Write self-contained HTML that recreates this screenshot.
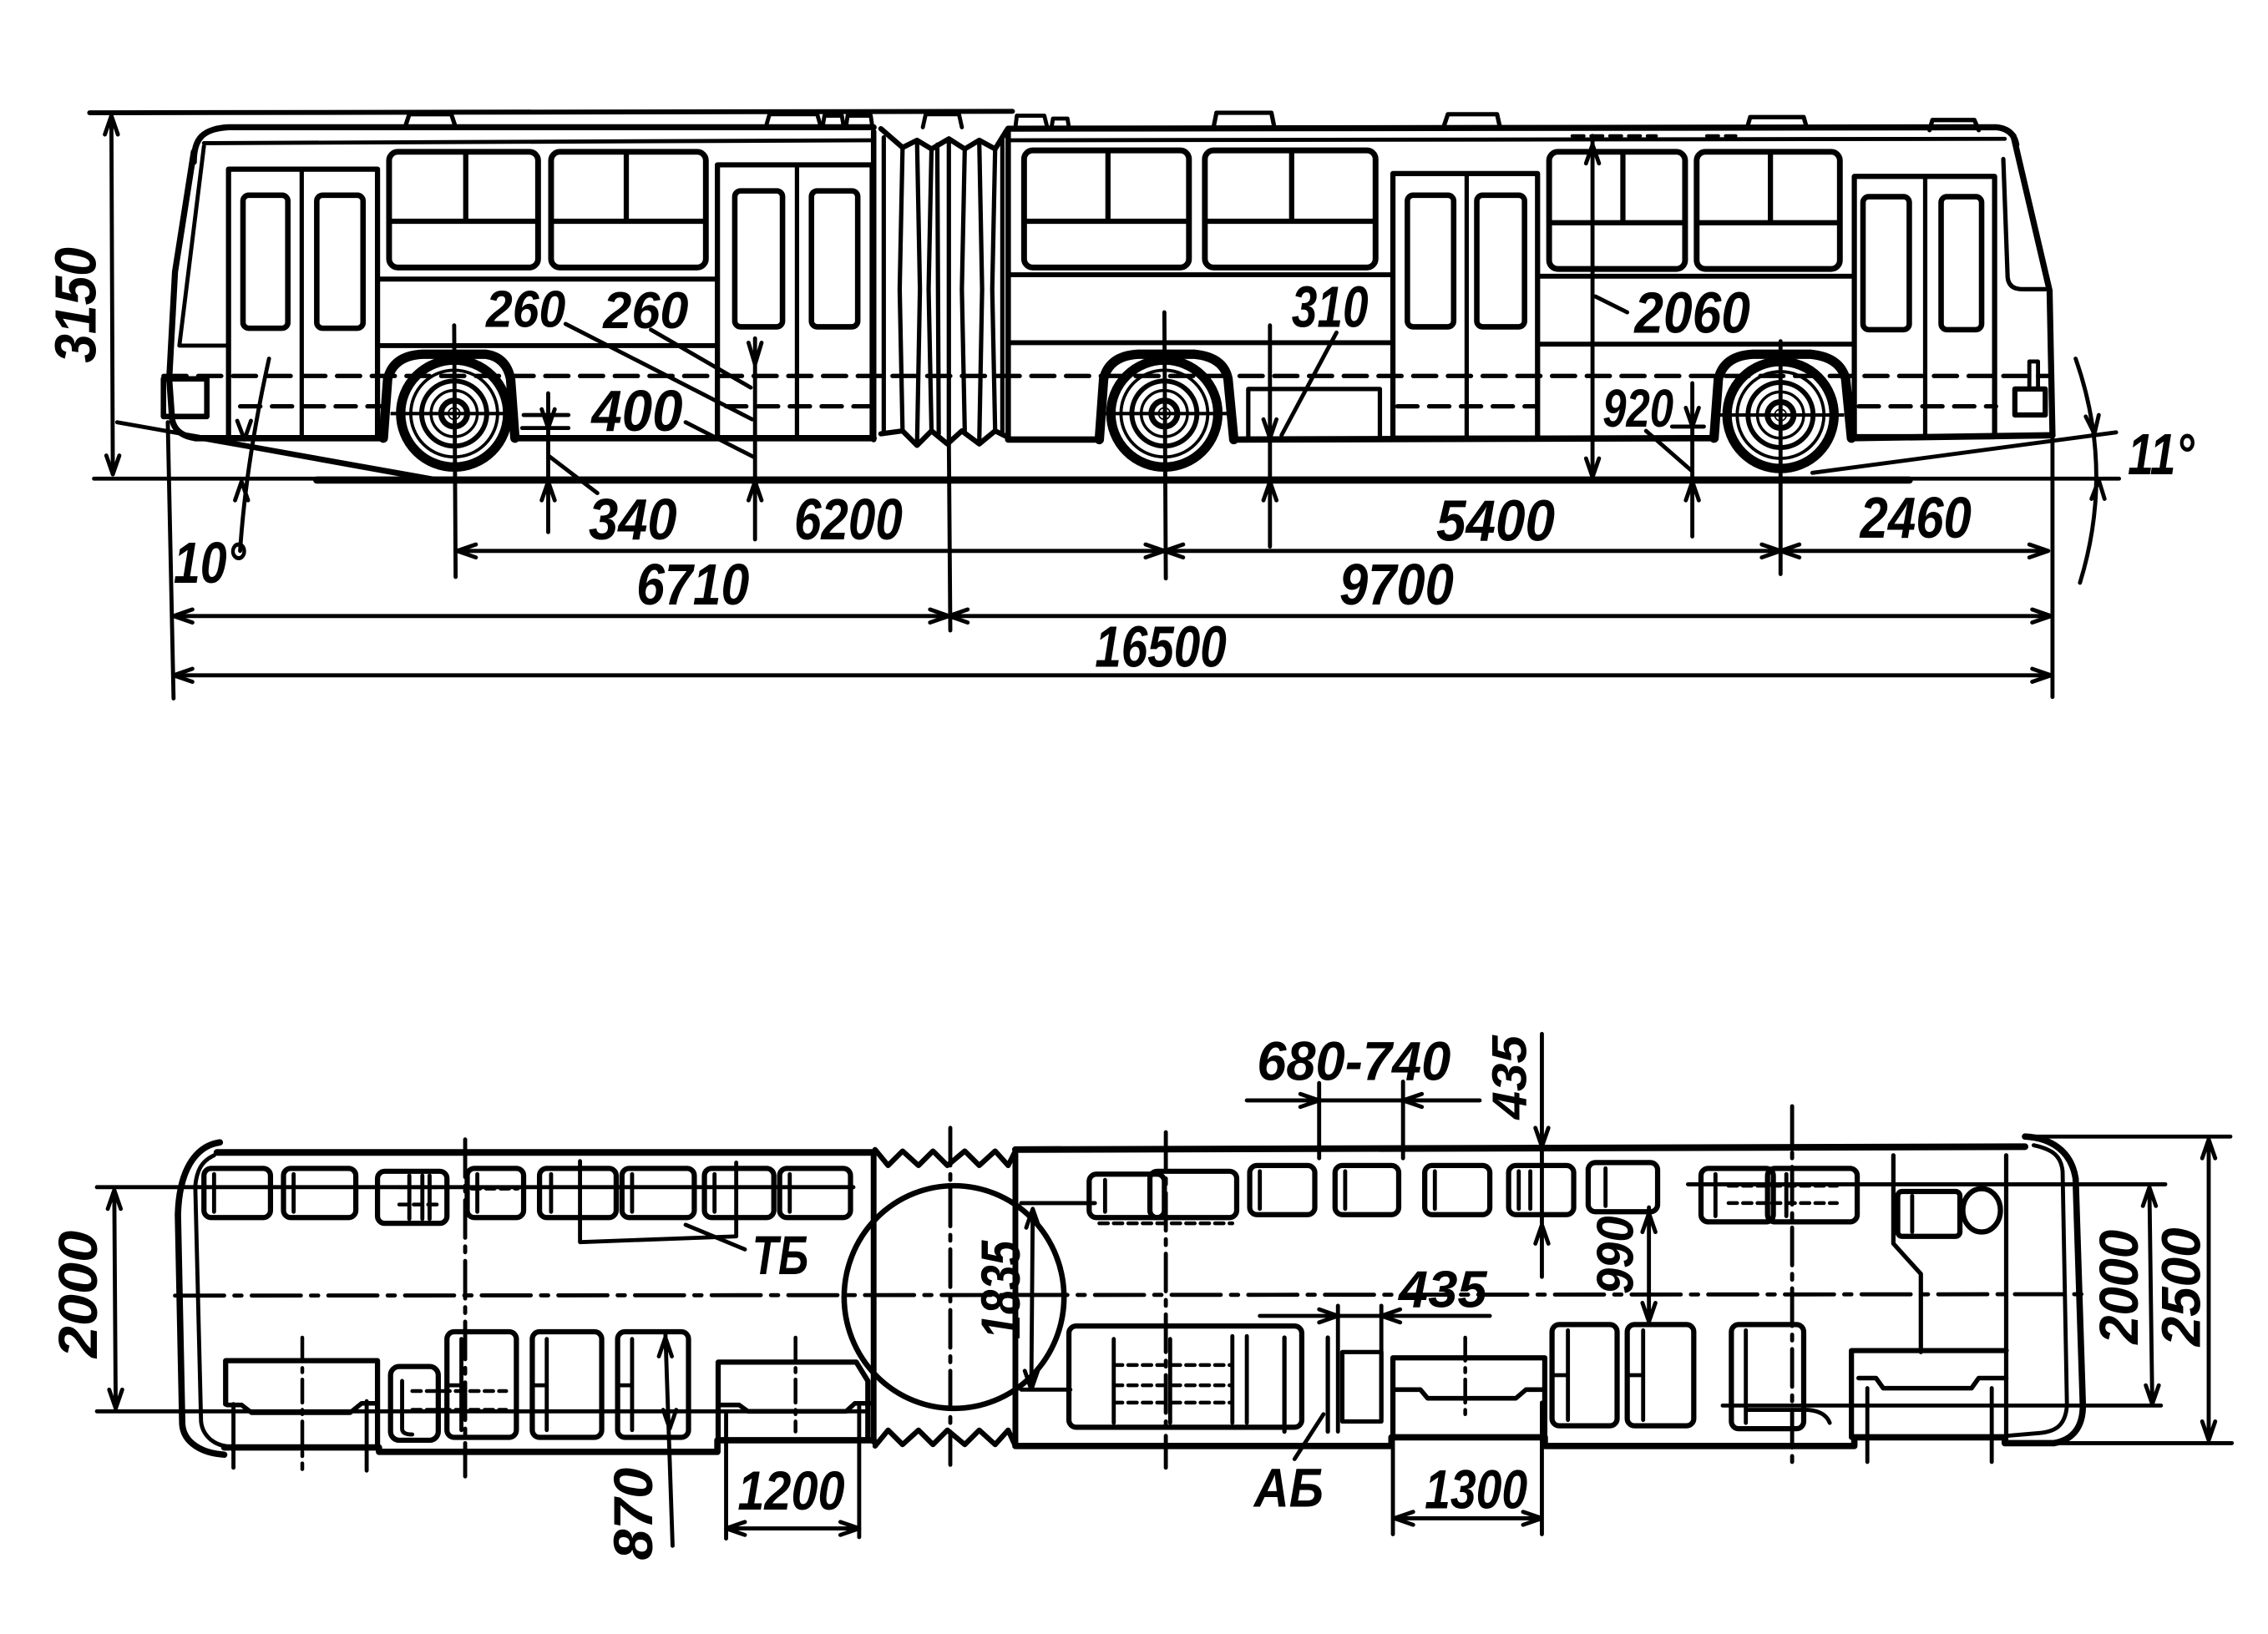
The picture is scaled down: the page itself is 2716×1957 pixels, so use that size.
<!DOCTYPE html>
<html><head><meta charset="utf-8"><style>
html,body{margin:0;padding:0;background:#fff;}
svg{display:block;}
text{font-family:"Liberation Sans","DejaVu Sans",sans-serif;font-style:italic;font-weight:bold;fill:#000;stroke:none;}
</style></head><body>
<svg width="2716" height="1957" viewBox="0 0 1568 1130" preserveAspectRatio="none" xmlns="http://www.w3.org/2000/svg">
<defs>
<g id="wheel" fill="none" stroke="#000">
<circle r="37" stroke-width="6.5"/>
<circle r="30" stroke-width="2.2"/>
<circle r="22.5" stroke-width="3.4"/>
<circle r="16" stroke-width="2"/>
<circle r="9" stroke-width="4"/>
<circle r="4" stroke-width="1" fill="#fff"/>
<line x1="-44" y1="0" x2="44" y2="0" stroke-width="2.4"/>
</g>
</defs>
<rect width="1568" height="1130" fill="#fff"/>

<!-- ================= SIDE VIEW ================= -->
<g fill="none" stroke="#000" stroke-linecap="round" stroke-linejoin="round">
<!-- top line & roof hatches -->
<path d="M62,78 L700,77" stroke-width="3.4"/>
<path d="M280,88 L283,79 L312,79 L315,88" stroke-width="3"/>
<path d="M530,86 L532,79 L565,79 L567,86 M569,86 L570,80 L582,80 L583,86 M585,87 L586,80 L602,80 L603,87" stroke-width="2.8"/>
<path d="M638,88 L640,79 L663,79 L665,88 M702,88 L703,80 L722,80 L724,88 M727,88 L728,82 L738,82 L739,88" stroke-width="2.8"/>
<path d="M839,88 L841,78 L879,78 L881,88 M998,88 L1001,79 L1035,79 L1037,88 M1208,88 L1210,81 L1247,81 L1249,88 M1334,90 L1336,83 L1365,83 L1368,90" stroke-width="3"/>
<path d="M1087,94 L1145,94 M1180,94 L1200,94" stroke-width="2.4" stroke-dasharray="8 5"/>

<!-- front section body -->
<path d="M134,112 C134,96 140,89 158,88 L604,88" stroke-width="4.2"/>
<path d="M141,99 L604,97" stroke-width="2.8"/>
<path d="M134,105 L121,188 L117,262 L119,290 Q121,301 135,303" stroke-width="4.2"/>
<path d="M141,101 L124,239 L158,239" stroke-width="2.8"/>
<rect x="113" y="262" width="30" height="26" stroke-width="3.8"/>
<!-- door 1 -->
<rect x="158" y="117" width="103" height="186" stroke-width="3.6"/>
<line x1="208.6" y1="117" x2="208.6" y2="303" stroke-width="3"/>
<rect x="168" y="135" width="31" height="92" rx="4" stroke-width="3.8"/>
<rect x="219" y="135" width="32" height="92" rx="4" stroke-width="3.8"/>
<!-- windows front section -->
<rect x="269" y="105" width="103" height="80" rx="6" stroke-width="4"/>
<path d="M322,105 L322,153 M269,153 L372,153" stroke-width="3.6"/>
<rect x="381" y="105" width="107" height="80" rx="6" stroke-width="4"/>
<path d="M433,105 L433,153 M381,153 L488,153" stroke-width="3.6"/>
<path d="M261,193 L496,193 M261,239 L496,239" stroke-width="3.4"/>
<!-- door 2 -->
<rect x="496" y="114" width="107" height="189" stroke-width="3.6"/>
<line x1="551" y1="114" x2="551" y2="303" stroke-width="3"/>
<rect x="508" y="132" width="33" height="94" rx="4" stroke-width="3.8"/>
<rect x="561" y="132" width="32" height="94" rx="4" stroke-width="3.8"/>
<!-- bottom line + fender front -->
<path d="M135,303 L265,303 M356,303 L604,303" stroke-width="4.4"/>
<path d="M265,303 L268,262 Q272,246 292,245 L336,245 Q350,247 353,262 L356,303" stroke-width="6.5"/>

<!-- articulation bellows -->
<path d="M604,91 L604,304 M697,91 L697,304" stroke-width="3.8"/>
<path d="M609,89 L624,102 L634,97 L644,103 L656,96 L667,103 L677,97 L688,103 L696,90" stroke-width="3.6"/>
<path d="M609,300 L624,298 L634,308 L644,298 L655,307 L665,298 L677,307 L688,298 L696,302" stroke-width="3.6"/>
<path d="M611,95 L611,300 M624,102 L622,200 L624,298 M634,97 L636,200 L634,308 M644,103 L642,200 L644,298 M648,100 L649,300 M656,96 L656,307 M667,103 L665,200 L667,298 M677,97 L679,200 L677,307 M688,103 L686,200 L688,298 M693,96 L693,300" stroke-width="3"/>

<!-- rear section body -->
<path d="M697,89 L1380,88 Q1392,89 1394,100" stroke-width="4.2"/>
<path d="M697,97 L1386,96" stroke-width="2.8"/>
<rect x="708" y="104" width="114" height="81" rx="6" stroke-width="4"/>
<path d="M766,104 L766,153 M708,153 L822,153" stroke-width="3.6"/>
<rect x="833" y="104" width="118" height="81" rx="6" stroke-width="4"/>
<path d="M893,104 L893,153 M833,153 L951,153" stroke-width="3.6"/>
<path d="M697,190 L963,190 M697,237 L963,237" stroke-width="3.4"/>
<!-- door 3 -->
<rect x="963" y="120" width="100" height="183" stroke-width="3.6"/>
<line x1="1014" y1="120" x2="1014" y2="303" stroke-width="3"/>
<rect x="973" y="135" width="32" height="91" rx="4" stroke-width="3.8"/>
<rect x="1021" y="135" width="33" height="91" rx="4" stroke-width="3.8"/>
<rect x="1071" y="105" width="94" height="81" rx="6" stroke-width="4"/>
<path d="M1122,105 L1122,154 M1071,154 L1165,154" stroke-width="3.6"/>
<rect x="1173" y="105" width="99" height="81" rx="6" stroke-width="4"/>
<path d="M1224,105 L1224,154 M1173,154 L1272,154" stroke-width="3.6"/>
<path d="M1063,191 L1282,191 M1063,238 L1282,238" stroke-width="3.4"/>
<!-- door 4 -->
<rect x="1282" y="122" width="97" height="180" stroke-width="3.6"/>
<line x1="1331" y1="122" x2="1331" y2="302" stroke-width="3"/>
<rect x="1288" y="136" width="32" height="92" rx="4" stroke-width="3.8"/>
<rect x="1342" y="136" width="28" height="92" rx="4" stroke-width="3.8"/>
<!-- rear face -->
<path d="M1392,94 L1417,201 L1419,301" stroke-width="4.2"/>
<path d="M1385,110 L1388,192 Q1389,200 1398,200 L1414,200" stroke-width="3"/>
<rect x="1393" y="269" width="21" height="18" stroke-width="3.6"/>
<rect x="1403" y="250" width="6" height="19" stroke-width="2.8"/>
<!-- bottom rear + fenders -->
<path d="M697,304 L760,304 M853,304 L1185,303 M1280,303 L1419,301" stroke-width="4.4"/>
<path d="M760,304 L763,262 Q767,246 787,245 L826,245 Q846,247 849,262 L853,304" stroke-width="6.5"/>
<path d="M1185,303 L1188,262 Q1192,246 1212,245 L1252,245 Q1272,247 1276,262 L1280,303" stroke-width="6.5"/>
<path d="M863,303 L863,269 L954,269 L954,303" stroke-width="3"/>

<!-- dashed lines -->
<path d="M113,260 L1418,260" stroke-width="3" stroke-dasharray="16 8"/>
<path d="M166,281 L263,281 M502,281 L607,281 M966,281 L1061,281 M1285,281 L1380,281" stroke-width="3" stroke-dasharray="14 8"/>
<path d="M362,287 L393,287" stroke-width="2.8"/>
</g>

<!-- wheels -->
<use href="#wheel" x="314" y="286"/>
<use href="#wheel" x="805" y="286"/>
<use href="#wheel" x="1231" y="287"/>

<!-- dimension lines side view -->
<g fill="none" stroke="#000" stroke-width="2.8" stroke-linecap="round" stroke-linejoin="round">
<path d="M65,331 L1465,331"/>
<path d="M219,332 L1320,332" stroke-width="5"/>
<path d="M77,80 L78,328"/>
<path d="M72.5,93 L77,80 L81.5,93 M73.5,315 L78,328 L82.5,315"/>
<path d="M81,292 L300,331"/>
<path d="M134,302 L168,308 L290,330" stroke-width="3.8"/>
<path d="M1253,327 L1463,299"/>
<path d="M116,292 L120,483 M1419,301 L1419,482 M656,304 L657,436"/>
<path d="M314,225 L315,399 M805,216 L806,400 M1231,236 L1231,397"/>
<path d="M316,381 L1416,381"/>
<path d="M329,376.5 L316,381 L329,385.5 M792,376.5 L805,381 L792,385.5 M818,376.5 L805,381 L818,385.5 M1218,376.5 L1231,381 L1218,385.5 M1244,376.5 L1231,381 L1244,385.5 M1403,376.5 L1416,381 L1403,385.5"/>
<path d="M120,426 L1418,426"/>
<path d="M133,421.5 L120,426 L133,430.5 M643,421.5 L656,426 L643,430.5 M669,421.5 L656,426 L669,430.5 M1405,421.5 L1418,426 L1405,430.5"/>
<path d="M120,467 L1418,467"/>
<path d="M133,462.5 L120,467 L133,471.5 M1405,462.5 L1418,467 L1405,471.5"/>
<!-- 10 deg -->
<path d="M186,248 Q170,320 166,381"/>
<path d="M164,291 L169,304 L173.5,291 M162.5,346 L167,333 L171.5,346"/>
<!-- 11 deg -->
<path d="M1435,248 Q1462,325 1438,403"/>
<path d="M1442,288 L1448,300 L1451,287 M1446,345 L1451,332 L1455,345"/>
<!-- 340 -->
<path d="M379,272 L379,368 M361,296 L393,296 M379,315 L413,341"/>
<path d="M374.5,283 L379,296 L383.5,283 M374.5,346 L379,333 L383.5,346"/>
<!-- 260/400 line -->
<path d="M522,234 L522,373"/>
<path d="M517.5,237 L522,252 L526.5,237 M517.5,346 L522,333 L526.5,346"/>
<path d="M391,224 L520,290 M450,228 L519,268 M474,292 L521,316"/>
<!-- 310 -->
<path d="M878,225 L878,378 M924,230 L886,301"/>
<path d="M873.5,290 L878,303 L882.5,290 M873.5,346 L878,333 L882.5,346"/>
<!-- 920 -->
<path d="M1170,265 L1170,371 M1156,295 L1178,295 M1138,298 L1170,326"/>
<path d="M1165.5,282 L1170,295 L1174.5,282 M1165.5,346 L1170,333 L1174.5,346"/>
<!-- 2060 -->
<path d="M1101,94 L1101,330 M1103,205 L1125,216"/>
<path d="M1096.5,113 L1101,100 L1105.5,113 M1096.5,317 L1101,330 L1105.5,317"/>
</g>

<!-- side view texts -->
<g font-size="40">
<text transform="translate(66,211) rotate(-90)" text-anchor="middle" textLength="80" lengthAdjust="spacingAndGlyphs">3150</text>
<text x="336" y="226" font-size="36" textLength="55" lengthAdjust="spacingAndGlyphs">260</text>
<text x="417" y="227" font-size="36" textLength="59" lengthAdjust="spacingAndGlyphs">260</text>
<text x="409" y="298" textLength="63" lengthAdjust="spacingAndGlyphs">400</text>
<text x="407" y="373" textLength="61" lengthAdjust="spacingAndGlyphs">340</text>
<text x="549" y="373" textLength="75" lengthAdjust="spacingAndGlyphs">6200</text>
<text x="440" y="418" textLength="78" lengthAdjust="spacingAndGlyphs">6710</text>
<text x="926" y="418" textLength="79" lengthAdjust="spacingAndGlyphs">9700</text>
<text x="757" y="461" textLength="91" lengthAdjust="spacingAndGlyphs">16500</text>
<text x="993" y="374" textLength="82" lengthAdjust="spacingAndGlyphs">5400</text>
<text x="1286" y="372" textLength="77" lengthAdjust="spacingAndGlyphs">2460</text>
<text x="893" y="226" textLength="53" lengthAdjust="spacingAndGlyphs">310</text>
<text x="1130" y="230" textLength="80" lengthAdjust="spacingAndGlyphs">2060</text>
<text x="1108" y="295" font-size="37" textLength="49" lengthAdjust="spacingAndGlyphs">920</text>
<text x="120" y="403" textLength="50" lengthAdjust="spacingAndGlyphs">10°</text>
<text x="1471" y="328" textLength="46" lengthAdjust="spacingAndGlyphs">11°</text>
</g>

<!-- ================= PLAN VIEW ================= -->
<g fill="none" stroke="#000" stroke-linecap="round" stroke-linejoin="round">
<!-- front section outline -->
<path d="M150,797 L604,797" stroke-width="4.6"/>
<path d="M152,790 C138,792 124,805 123,840 L126,985 C127,998 140,1005 155,1006" stroke-width="4.4"/>
<path d="M148,799 C139,803 136,810 135,820 L139,983 C140,993 148,999 156,1000" stroke-width="2.8"/>
<path d="M155,1001 L262,1001 L262,1004 L496,1004 L496,996 L604,996" stroke-width="4.4"/>
<path d="M604,797 L604,997" stroke-width="4"/>
<!-- articulation -->
<path d="M605,795 L614,806 L624,796 L635,806 L645,796 L655,806 L667,796 L677,806 L688,796 L697,806 L702,796" stroke-width="3.6"/>
<path d="M605,1000 L614,989 L624,999 L635,989 L645,999 L655,989 L667,999 L677,989 L688,999 L697,989 L702,1000" stroke-width="3.6"/>
<ellipse cx="659.6" cy="897" rx="76" ry="77" stroke-width="3.8"/>
<!-- rear section outline -->
<path d="M702,795 L702,1000" stroke-width="4"/>
<path d="M702,795 L1400,793" stroke-width="4.6"/>
<path d="M1400,786 C1418,787 1432,796 1435,815 L1440,972 C1440,988 1432,996 1420,998" stroke-width="4.4"/>
<path d="M1406,792 C1420,795 1425,800 1426,810 L1429,972 C1428,985 1422,990 1410,991 L1387,993" stroke-width="2.8"/>
<path d="M702,1000 L962,1000 L962,994 L1068,994 L1068,1000 L1282,1000 L1282,994 L1386,994 L1386,998 L1420,998" stroke-width="4.4"/>

<!-- centerlines -->
<path d="M121,896 L1441,895" stroke-width="2.8" stroke-dasharray="34 7 5 7"/>
<path d="M321.6,788 L321.6,1021 M806,783 L806,1015 M1239,765 L1239,1013 M657,780 L657,1013" stroke-width="2.8" stroke-dasharray="26 6 4 6"/>
<path d="M209,925 L209,1016 M550,925 L550,990 M1013,925 L1013,983" stroke-width="2.6" stroke-dasharray="16 5 3 5"/>

<!-- front top seats -->
<g stroke-width="3.6">
<rect x="141" y="808" width="46" height="34" rx="5"/>
<rect x="196" y="808" width="50" height="34" rx="5"/>
<rect x="261" y="810" width="48" height="36" rx="5"/>
<rect x="323" y="808" width="39" height="34" rx="5"/>
<rect x="373" y="808" width="53" height="34" rx="5"/>
<rect x="430" y="808" width="50" height="34" rx="5"/>
<rect x="487" y="808" width="48" height="34" rx="5"/>
<rect x="539" y="808" width="49" height="34" rx="5"/>
</g>
<path d="M148,812 L148,838 M203,812 L203,838 M283,813 L283,843 M292,813 L292,843 M297,813 L297,843 M330,812 L330,838 M381,812 L381,838 M437,812 L437,838 M494,812 L494,838 M546,812 L546,838" stroke-width="2.8"/>
<path d="M276,821 L306,821 M276,833 L306,833 M326,822 L358,822" stroke-width="2.6" stroke-dasharray="6 4"/>
<!-- TB bracket -->
<path d="M401,803 L401,859 L509,855 L509,804 M474,847 L515,864" stroke-width="2.8"/>
<!-- front bottom seats -->
<g stroke-width="3.6">
<rect x="309" y="921" width="48" height="73" rx="5"/>
<rect x="368" y="921" width="48" height="73" rx="5"/>
<rect x="427" y="921" width="49" height="73" rx="5"/>
<rect x="270" y="945" width="33" height="51" rx="6"/>
</g>
<path d="M319,926 L319,989 M378,926 L378,989 M437,926 L437,989 M309,958 L319,958 M368,958 L378,958 M427,958 L437,958 M278,955 L278,988 Q278,992 285,992" stroke-width="2.8"/>
<path d="M285,962 L350,962 M285,975 L350,975" stroke-width="2.6" stroke-dasharray="6 4"/>
<!-- front doors plan -->
<path d="M156,971 L156,941 L261,941 L261,1001" stroke-width="3.6"/>
<path d="M157,971.6 L167,971.6 L174,977 L242,977 L250,970.5 L259,970.5" stroke-width="3.2"/>
<path d="M161.4,971 L161.4,1015 M253.5,969 L253.5,1017" stroke-width="2.8"/>
<path d="M496.5,996 L496.5,942 L592,942 L600,955 L600,996" stroke-width="3.6"/>
<path d="M496.5,971.6 L511,971.6 L517,976 L585,976 L591,970.5 L603,970.5" stroke-width="3.2"/>
<path d="M502,978 L502,1064 M594,971.6 L594,1063" stroke-width="2.8"/>

<!-- rear top seats -->
<g stroke-width="3.6">
<rect x="753" y="812" width="52" height="30" rx="5"/>
<rect x="795" y="810" width="60" height="32" rx="5"/>
<rect x="864" y="806" width="45" height="34" rx="5"/>
<rect x="923" y="806" width="44" height="34" rx="5"/>
<rect x="985" y="806" width="45" height="34" rx="5"/>
<rect x="1043" y="806" width="45" height="34" rx="5"/>
<rect x="1098" y="804" width="48" height="34" rx="5"/>
<rect x="1176" y="808" width="50" height="37" rx="5"/>
<rect x="1222" y="808" width="62" height="37" rx="5"/>
<rect x="1312" y="824" width="43" height="31" rx="3"/>
</g>
<path d="M871,810 L871,836 M930,810 L930,836 M992,810 L992,836 M1050,810 L1050,836 M1058,810 L1058,836 M1110,808 L1110,834 M764,816 L764,838 M1186,812 L1186,841 M1235,812 L1235,841 M1322,827 L1322,852" stroke-width="2.8"/>
<path d="M760,846 L852,846 M1195,820 L1270,820 M1195,832 L1270,832" stroke-width="2.6" stroke-dasharray="6 4"/>
<ellipse cx="1370" cy="837" rx="13" ry="15" stroke-width="3.6"/>
<path d="M1309,799 L1309,860 L1328,881 L1328,935 M1387,799 L1387,997" stroke-width="3"/>
<!-- rear bottom seats -->
<g stroke-width="3.6">
<rect x="739" y="917" width="161" height="70" rx="5"/>
<rect x="1073" y="916" width="45" height="70" rx="5"/>
<rect x="1125" y="916" width="46" height="70" rx="5"/>
<rect x="1197" y="916" width="50" height="72" rx="5"/>
</g>
<path d="M770,926 L770,984 M809,926 L809,984 M852,924 L852,984 M862,924 L862,984 M1084,920 L1084,982 M1136,920 L1136,982 M1207,920 L1207,984 M1073,951 L1084,951 M1125,951 L1136,951" stroke-width="2.8"/>
<path d="M770,944 L852,944 M770,958 L852,958 M770,970 L852,970" stroke-width="2.6" stroke-dasharray="6 4"/>
<path d="M888,925 L888,990 M918,925 L918,990 M928,935 L955,935 L955,983 L928,983 Z" stroke-width="3"/>
<path d="M1207,975 L1250,975 Q1262,976 1265,984" stroke-width="2.8"/>
<!-- rear doors plan -->
<path d="M963,994 L963,939 L1068,939 L1068,994" stroke-width="3.6"/>
<path d="M965,961 L982,961 L987,967 L1048,967 L1055,961 L1068,961" stroke-width="3.2"/>
<path d="M1280,994 L1280,934 L1387,934" stroke-width="3.6"/>
<path d="M1285,953 L1297,953 L1302,960 L1363,960 L1368,953 L1387,953" stroke-width="3.2"/>
<path d="M1291,960 L1291,1011 M1377,960 L1377,1011" stroke-width="2.8"/>

<!-- plan dimension lines -->
<g stroke-width="2.8">
<path d="M67,821 L590,821 M67,976 L600,976"/>
<path d="M1167,819 L1497,819 M1191,972 L1494,972"/>
<path d="M1400,786 L1542,786 M1422,998 L1543,998"/>
<path d="M79,823 L80,974 M74.5,836 L79,823 L83.5,836 M75.5,961 L80,974 L84.5,961"/>
<path d="M1486,821 L1488,971 M1481.5,834 L1486,821 L1490.5,834 M1483.5,958 L1488,971 L1492.5,958"/>
<path d="M1527,788 L1527,996 M1522.5,801 L1527,788 L1531.5,801 M1522.5,983 L1527,996 L1531.5,983"/>
<path d="M460,921 L465,1069 M455.5,938 L460,925 L464.5,938 M458.5,975 L463,988 L467.5,975"/>
<path d="M502,1057 L594,1057 M515,1052.5 L502,1057 L515,1061.5 M581,1052.5 L594,1057 L581,1061.5"/>
<path d="M714,836 L713,961 M709.5,849 L714,836 L718.5,849 M708.5,948 L713,961 L717.5,948 M706,832 L757,832 M706,961 L740,961"/>
<path d="M862,761 L1023,761 M912,749 L912,801 M970,748 L970,801 M899,756.5 L912,761 L899,765.5 M983,756.5 L970,761 L983,765.5"/>
<path d="M1066,715 L1066,883 M1058,793 L1074,793 M1061.5,780 L1066,793 L1070.5,780 M1061.5,860 L1066,847 L1070.5,860"/>
<path d="M871,910 L1030,910 M925,903 L925,990 M955,903 L955,980 M912,905.5 L925,910 L912,914.5 M968,905.5 L955,910 L968,914.5"/>
<path d="M1140,835 L1140,916 M1135.5,852 L1140,839 L1144.5,852 M1135.5,901 L1140,914 L1144.5,901"/>
<path d="M895,1009 L915,978"/>
<path d="M964,1050 L1066,1050 M977,1045.5 L964,1050 L977,1054.5 M1053,1045.5 L1066,1050 L1053,1054.5 M963,970 L963,1061 M1066,970 L1066,1061"/>
</g>
</g>

<!-- plan texts -->
<g font-size="38">
<text transform="translate(67,895) rotate(-90)" text-anchor="middle" textLength="88" lengthAdjust="spacingAndGlyphs">2000</text>
<text x="520" y="881" textLength="39" lengthAdjust="spacingAndGlyphs">ТБ</text>
<text transform="translate(451,1047) rotate(-90)" text-anchor="middle" textLength="64" lengthAdjust="spacingAndGlyphs">870</text>
<text x="510" y="1044" textLength="74" lengthAdjust="spacingAndGlyphs">1200</text>
<text transform="translate(705,892) rotate(-90)" text-anchor="middle" textLength="68" lengthAdjust="spacingAndGlyphs">1835</text>
<text x="869" y="747" textLength="134" lengthAdjust="spacingAndGlyphs">680-740</text>
<text transform="translate(1055,745) rotate(-90)" text-anchor="middle" font-size="34" textLength="58" lengthAdjust="spacingAndGlyphs">435</text>
<text x="967" y="904" font-size="36" textLength="61" lengthAdjust="spacingAndGlyphs">435</text>
<text transform="translate(1129,868) rotate(-90)" text-anchor="middle" font-size="36" textLength="54" lengthAdjust="spacingAndGlyphs">990</text>
<text x="867" y="1042" textLength="48" lengthAdjust="spacingAndGlyphs">АБ</text>
<text x="985" y="1043" textLength="71" lengthAdjust="spacingAndGlyphs">1300</text>
<text transform="translate(1478,890) rotate(-90)" text-anchor="middle" textLength="79" lengthAdjust="spacingAndGlyphs">2000</text>
<text transform="translate(1521,890) rotate(-90)" text-anchor="middle" textLength="82" lengthAdjust="spacingAndGlyphs">2500</text>
</g>
</svg>
</body></html>
